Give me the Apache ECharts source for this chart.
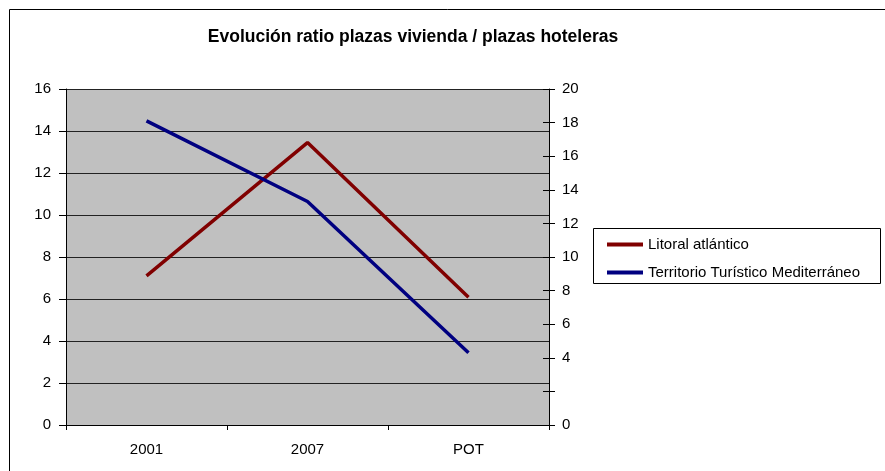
<!DOCTYPE html>
<html>
<head>
<meta charset="utf-8">
<script src="https://cdn.jsdelivr.net/npm/echarts@6/dist/echarts.min.js"></script>
<style>
html,body{margin:0;padding:0;background:#fff;}
#c{width:885px;height:471px;}
</style>
</head>
<body>
<div id="c"></div>
<script>
var categories = ['2001', '2007', 'POT'];
var litoralAtlantico = [7.1, 13.45, 6.08];
var territorioMediterraneo = [18.1, 13.3, 4.3];
var seriesNames = ['Litoral atlántico', 'Territorio Turístico Mediterráneo'];
var titleText = 'Evolución ratio plazas vivienda / plazas hoteleras';

var FONT = '"Liberation Sans", Arial, sans-serif';
var chart = echarts.init(document.getElementById('c'), null, {renderer: 'canvas'});
var option = {
  backgroundColor: '#ffffff',
  animation: false,
  textStyle: {fontFamily: FONT},
  grid: {left: 66, right: 336, top: 89, bottom: 46, show: true, backgroundColor: '#c0c0c0', borderWidth: 0},
  legend: {
    orient: 'vertical', left: 602, top: 232, icon: 'rect', itemWidth: 36, itemHeight: 4, itemGap: 13,
    textStyle: {fontFamily: FONT, fontSize: 15, color: '#000', lineHeight: 15},
    data: seriesNames
  },
  graphic: [
    {type: 'rect', shape: {x: 9.5, y: 9.5, width: 900, height: 500}, style: {fill: 'none', stroke: '#000', lineWidth: 1}, silent: true, z: -1},
    {type: 'rect', shape: {x: 593.5, y: 228.5, width: 287, height: 55}, style: {fill: 'none', stroke: '#000', lineWidth: 1}, silent: true},
    {type: 'text', x: 413, y: 37, style: {text: titleText, font: 'bold 17.5px ' + FONT, fill: '#000', textAlign: 'center', textVerticalAlign: 'middle'}}
  ],
  xAxis: {
    type: 'category', data: categories, boundaryGap: true,
    axisLine: {lineStyle: {color: '#000', width: 1}},
    axisTick: {show: true, length: 5, lineStyle: {color: '#000'}},
    axisLabel: {color: '#000', fontSize: 15, margin: 17, fontFamily: FONT}
  },
  yAxis: [
    {
      type: 'value', min: 0, max: 16, interval: 2, position: 'left',
      axisLine: {show: true, lineStyle: {color: '#000'}},
      axisTick: {show: true, length: 7, lineStyle: {color: '#000'}},
      axisLabel: {color: '#000', fontSize: 15, margin: 15, fontFamily: FONT},
      splitLine: {show: true, lineStyle: {color: '#222', width: 1}}
    },
    {
      type: 'value', min: 0, max: 20, interval: 2, position: 'right',
      axisLine: {show: true, lineStyle: {color: '#000'}},
      axisTick: {show: true, length: 6, lineStyle: {color: '#000'}},
      axisLabel: {color: '#000', fontSize: 15, margin: 13, fontFamily: FONT,
        formatter: function (v) { return v === 2 ? '' : String(v); }},
      splitLine: {show: false}
    },
    {
      type: 'value', min: 0, max: 20, interval: 2, position: 'right',
      axisLine: {show: false},
      axisTick: {show: true, inside: true, length: 6, lineStyle: {color: '#000'}},
      axisLabel: {show: false},
      splitLine: {show: false}
    }
  ],
  series: [
    {
      name: seriesNames[0], type: 'line', yAxisIndex: 0, data: litoralAtlantico,
      symbol: 'none', color: '#800000', lineStyle: {width: 3.5, color: '#800000'}
    },
    {
      name: seriesNames[1], type: 'line', yAxisIndex: 1, data: territorioMediterraneo,
      symbol: 'none', color: '#000080', lineStyle: {width: 3.5, color: '#000080'}
    }
  ]
};
chart.setOption(option);
</script>
</body>
</html>
